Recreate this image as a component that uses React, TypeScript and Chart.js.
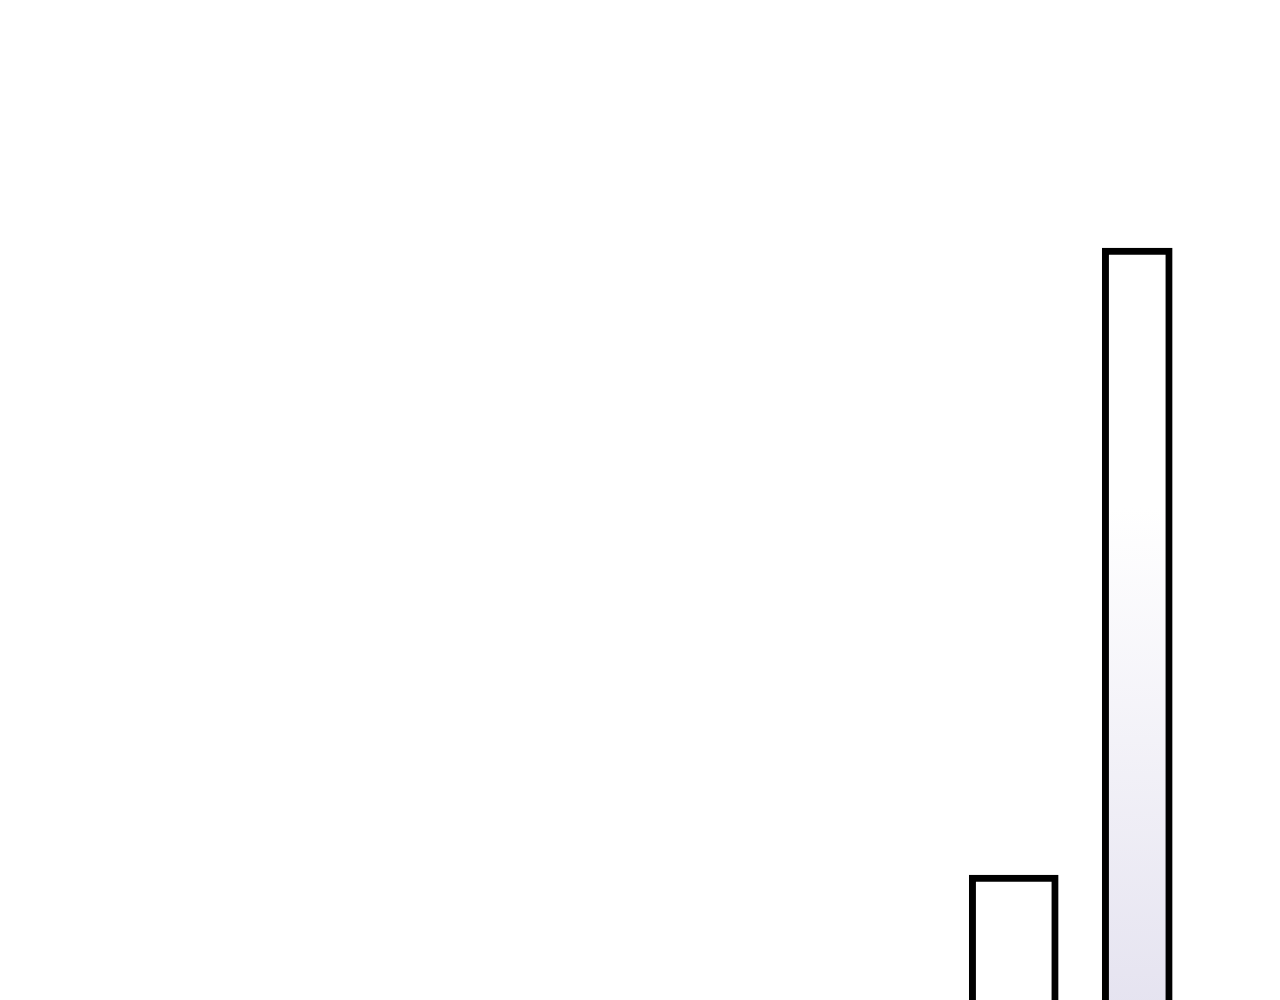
import { type FC, useEffect, useRef } from "react";
import Chart from "chart.js/auto";

const labels = ["1", "2"];
const firstValues = [13.3, null];
const secondValues = [null, 76];

const App: FC = () => {
  const canvasRef = useRef<HTMLCanvasElement>(null);
  const chartInstance = useRef<Chart>();

  useEffect(() => {
    if (!canvasRef.current) return;
    const ctx = canvasRef.current.getContext("2d");
    if (!ctx) return;

    if (chartInstance.current) {
      chartInstance.current.destroy();
    }

    chartInstance.current = new Chart(ctx, {
      type: "bar",
      data: {
        labels: labels,
        datasets: [
          {
            label: "First",
            data: firstValues,
            backgroundColor: "#ffffff",
            borderColor: "#000000",
            borderWidth: 7,
            barThickness: 89,
            grouped: false,
          },
          {
            label: "Second",
            data: secondValues,
            // soft lavender fade towards the bottom of the chart area
            backgroundColor: (context: any) => {
              const { chart } = context;
              const area = chart.chartArea;
              if (!area) return "#ffffff";
              const g = chart.ctx.createLinearGradient(0, area.top, 0, area.bottom);
              g.addColorStop(0, "#ffffff");
              g.addColorStop(0.5, "#ffffff");
              g.addColorStop(1, "#e5e3f0");
              return g;
            },
            borderColor: "#000000",
            borderWidth: 7,
            barThickness: 70,
            grouped: false,
          },
        ],
      },
      options: {
        animation: false,
        responsive: true,
        maintainAspectRatio: false,
        layout: {
          padding: { left: 944, right: 73, top: 0, bottom: 0 },
        },
        plugins: {
          legend: { display: false },
          tooltip: { enabled: false },
        },
        scales: {
          x: { display: false },
          y: { display: false, min: 0, max: 100 },
        },
      },
    });

    return () => {
      if (chartInstance.current) {
        chartInstance.current.destroy();
      }
    };
  }, []);

  return (
    <div style={{ position: "relative", width: 1264, height: 1000 }}>
      <canvas ref={canvasRef}></canvas>
    </div>
  );
};

export default App;
